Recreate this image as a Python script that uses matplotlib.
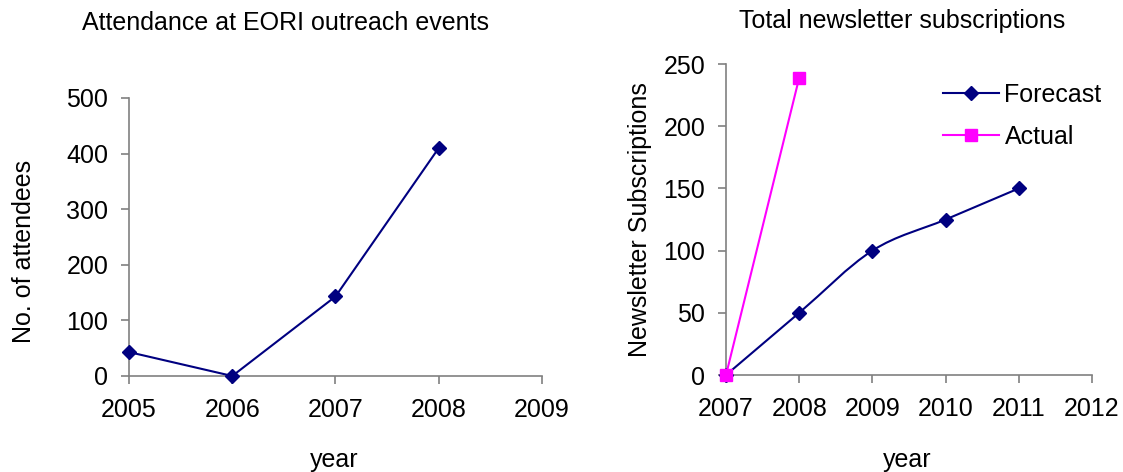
import numpy as np
import matplotlib
matplotlib.use("Agg")
import matplotlib.pyplot as plt
from matplotlib.path import Path
from matplotlib.patches import PathPatch

plt.rcParams['font.family'] = ['Liberation Sans', 'DejaVu Sans']

# attendance data
att_years = [2005, 2006, 2007, 2008]
att_values = [43, 0, 143, 410]
att_xticks = [2005, 2006, 2007, 2008, 2009]
att_yticks = [0, 100, 200, 300, 400, 500]

# newsletter data
news_years = [2007, 2008, 2009, 2010, 2011]
forecast = [0, 50, 100, 125, 150]
actual_years = [2007, 2008]
actual = [0, 239]
news_xticks = [2007, 2008, 2009, 2010, 2011, 2012]
news_yticks = [0, 50, 100, 150, 200, 250]

NAVY = "#000080"
MAGENTA = "#FF00FF"
GREY = "#808080"
FS = 18


def style_axes(ax):
    for s in ["top", "right"]:
        ax.spines[s].set_visible(False)
    for s in ["left", "bottom"]:
        ax.spines[s].set_color(GREY)
        ax.spines[s].set_linewidth(1.2)
    ax.tick_params(axis="both", colors=GREY, labelcolor="black", labelsize=FS,
                   length=6, width=1.2, direction="out")
    ax.tick_params(axis="x", pad=10)
    ax.tick_params(axis="y", pad=9)


def smooth_path(xs, ys):
    # Catmull-Rom style bezier segments, like a smoothed spreadsheet line
    xs = np.asarray(xs, float)
    ys = np.asarray(ys, float)
    verts = [(xs[0], ys[0])]
    codes = [Path.MOVETO]
    n = len(xs)
    for i in range(n - 1):
        p0 = (xs[max(i - 1, 0)], ys[max(i - 1, 0)])
        p1 = (xs[i], ys[i])
        p2 = (xs[i + 1], ys[i + 1])
        p3 = (xs[min(i + 2, n - 1)], ys[min(i + 2, n - 1)])
        c1 = (p1[0] + (p2[0] - p0[0]) / 6, p1[1] + (p2[1] - p0[1]) / 6)
        c2 = (p2[0] - (p3[0] - p1[0]) / 6, p2[1] - (p3[1] - p1[1]) / 6)
        verts += [c1, c2, p2]
        codes += [Path.CURVE4, Path.CURVE4, Path.CURVE4]
    return Path(verts, codes)


fig = plt.figure(figsize=(11.23, 4.72), dpi=100)

# left chart
ax1 = fig.add_axes([0.1149, 0.2034, 0.3677, 0.589])
ax1.plot(att_years, att_values, color=NAVY, lw=1.5, marker="D", ms=7,
         clip_on=False, zorder=3)
ax1.set_xlim(2005, 2009)
ax1.set_ylim(0, 500)
ax1.set_xticks(att_xticks)
ax1.set_yticks(att_yticks)
style_axes(ax1)

# right chart
ax2 = fig.add_axes([0.6465, 0.2055, 0.3259, 0.6589])
ax2.add_patch(PathPatch(smooth_path(news_years, forecast), facecolor="none",
                        edgecolor=NAVY, lw=1.5, zorder=3))
ax2.plot(news_years, forecast, color=NAVY, lw=0, marker="D", ms=7,
         clip_on=False, zorder=4)
ax2.plot(actual_years, actual, color=MAGENTA, lw=1.5, marker="s", ms=8,
         clip_on=False, zorder=5)
ax2.set_xlim(2007, 2012)
ax2.set_ylim(0, 250)
ax2.set_xticks(news_xticks)
ax2.set_yticks(news_yticks)
style_axes(ax2)

h1, = ax2.plot([], [], color=NAVY, lw=1.5, marker="D", ms=7)
h2, = ax2.plot([], [], color=MAGENTA, lw=1.5, marker="s", ms=8)
ax2.legend([h1, h2], ["Forecast", "Actual"], frameon=False, fontsize=FS,
           loc="upper left", bbox_to_anchor=(0.532, 1.012), handlelength=2.25,
           handletextpad=0.2, labelspacing=0.73, borderpad=0.4)

# titles and labels
fig.text(0.254, 0.952, "Attendance at EORI outreach events", ha="center",
         va="center", fontsize=FS)
fig.text(0.803, 0.955, "Total newsletter subscriptions", ha="center",
         va="center", fontsize=FS)
fig.text(0.298, 0.025, "year", ha="center", va="center", fontsize=FS)
fig.text(0.808, 0.025, "year", ha="center", va="center", fontsize=FS)
fig.text(0.021, 0.468, "No. of attendees", ha="center", va="center",
         rotation=90, fontsize=FS)
fig.text(0.570, 0.534, "Newsletter Subscriptions", ha="center", va="center",
         rotation=90, fontsize=FS)

fig.savefig("out.png", dpi=100)
